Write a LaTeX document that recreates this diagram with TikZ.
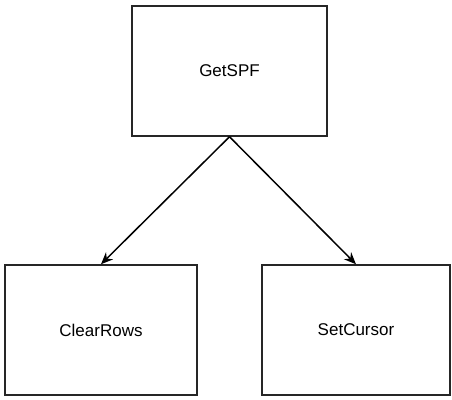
\documentclass[tikz,border=0pt]{standalone}
\usepackage{fontspec}
\setmainfont{Liberation Sans}
\usetikzlibrary{arrows.meta}
\begin{document}
\begin{tikzpicture}[x=1pt,y=-1pt,
  box/.style={draw=black!85,line width=1.5pt,rectangle,inner sep=0pt,
    font=\fontsize{17}{20}\selectfont},
  conn/.style={draw=black,line width=1.5pt,-{Stealth[length=12pt,width=10pt]}}]
\useasboundingbox (0,0) rectangle (452,399);
\node[box,minimum width=195pt,minimum height=130pt] (get) at (229.5,71) {GetSPF};
\node[box,minimum width=192pt,minimum height=130pt] (clear) at (101,330) {ClearRows};
\node[box,minimum width=188pt,minimum height=130pt] (set) at (356,330) {SetCursor};
\draw[conn] (get.south) -- (clear.north);
\draw[conn] (get.south) -- (set.north);
\end{tikzpicture}
\end{document}
